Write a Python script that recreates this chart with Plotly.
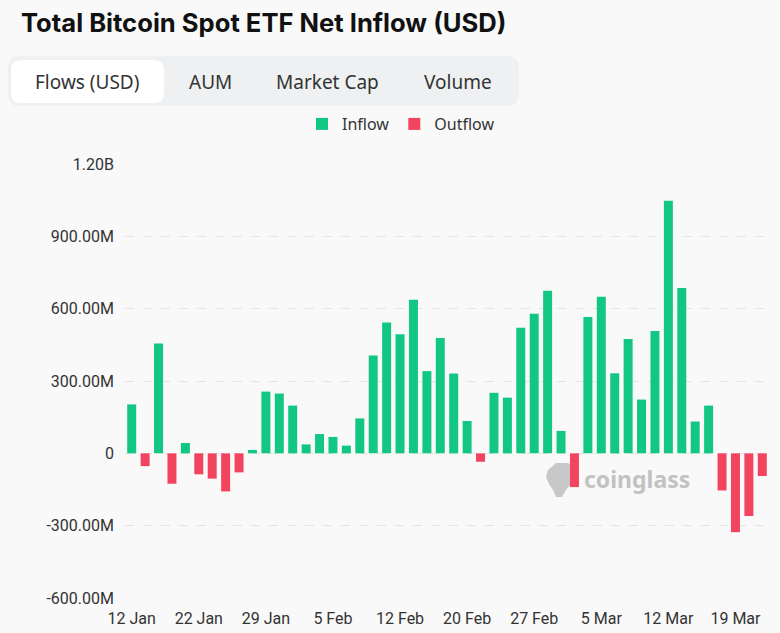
import plotly.graph_objects as go

# ---- data ----
dates = [
    "12 Jan", "16 Jan", "17 Jan", "18 Jan", "19 Jan",
    "22 Jan", "23 Jan", "24 Jan", "25 Jan", "26 Jan",
    "29 Jan", "30 Jan", "31 Jan", "1 Feb", "2 Feb",
    "5 Feb", "6 Feb", "7 Feb", "8 Feb", "9 Feb",
    "12 Feb", "13 Feb", "14 Feb", "15 Feb", "16 Feb",
    "20 Feb", "21 Feb", "22 Feb", "23 Feb", "26 Feb",
    "27 Feb", "28 Feb", "29 Feb", "1 Mar", "4 Mar",
    "5 Mar", "6 Mar", "7 Mar", "8 Mar", "11 Mar",
    "12 Mar", "13 Mar", "14 Mar", "15 Mar", "18 Mar",
    "19 Mar", "20 Mar", "21 Mar",
]
net_flow_musd = [
    203, -53, 456, -126, 43,
    -87, -105, -158, -79, 14,
    256, 248, 198, 37, 80,
    68, 32, 145, 406, 543,
    494, 637, 341, 478, 331,
    134, -35, 251, 231, 521,
    579, 674, 93, -140, 565,
    649, 332, 474, 223, 507,
    1048, 686, 132, 198, -154,
    -327, -260, -94,
]
tick_dates = ["12 Jan", "22 Jan", "29 Jan", "5 Feb", "12 Feb",
              "20 Feb", "27 Feb", "5 Mar", "12 Mar", "19 Mar"]
y_tick_vals_musd = [-600, -300, 0, 300, 600, 900, 1200]
y_tick_text = ["-600.00M", "-300.00M", "0", "300.00M", "600.00M", "900.00M", "1.20B"]
tabs = ["Flows (USD)", "AUM", "Market Cap", "Volume"]

inflow = [v * 1e6 if v >= 0 else None for v in net_flow_musd]
outflow = [v * 1e6 if v < 0 else None for v in net_flow_musd]

GREEN = "#12c784"
RED = "#f2445f"
BG = "#f9f9f9"
TXT = "#333333"

W, H = 780, 633
L, R, T, B = 125, 769, 164, 598


def px(x):
    return (x - L) / (R - L)


def py(y):
    return (B - y) / (B - T)


def rrect(x0, y0, x1, y1, r):
    pts = [
        f"M{px(x0 + r)},{py(y0)}",
        f"L{px(x1 - r)},{py(y0)}",
        f"Q{px(x1)},{py(y0)} {px(x1)},{py(y0 + r)}",
        f"L{px(x1)},{py(y1 - r)}",
        f"Q{px(x1)},{py(y1)} {px(x1 - r)},{py(y1)}",
        f"L{px(x0 + r)},{py(y1)}",
        f"Q{px(x0)},{py(y1)} {px(x0)},{py(y1 - r)}",
        f"L{px(x0)},{py(y0 + r)}",
        f"Q{px(x0)},{py(y0)} {px(x0 + r)},{py(y0)}",
        "Z",
    ]
    return " ".join(pts)


fig = go.Figure()
fig.add_trace(go.Bar(x=dates, y=inflow, name="Inflow", marker_color=GREEN,
                     marker_line_width=0))
fig.add_trace(go.Bar(x=dates, y=outflow, name="Outflow", marker_color=RED,
                     marker_line_width=0))

shapes = []
shapes.append(dict(type="path", xref="paper", yref="paper",
                   path=rrect(8, 56, 519, 106, 12),
                   fillcolor="#eff0f2", line=dict(width=0), layer="below"))
shapes.append(dict(type="path", xref="paper", yref="paper",
                   path=rrect(11, 60, 164, 103, 10),
                   fillcolor="#ffffff", line=dict(width=0), layer="below"))
logo = [
    (548, 470), (556, 463), (568, 463), (575, 468), (576, 477),
    (571, 484), (566, 490), (562, 497), (556, 497), (553, 490),
    (549, 484), (546, 477),
]
lp = "M" + " L".join(f"{px(a)},{py(b)}" for a, b in logo) + " Z"
shapes.append(dict(type="path", xref="paper", yref="paper", path=lp,
                   fillcolor="#c8c8c8", line=dict(width=0), layer="below"))

annotations = []
annotations.append(dict(text="<b>Total Bitcoin Spot ETF Net Inflow (USD)</b>",
                        xref="paper", yref="paper", x=px(19), y=py(23),
                        xanchor="left", yanchor="middle", showarrow=False,
                        font=dict(family="Inter", size=25.6, color="#111111")))
tab_centers = [87, 210, 327, 458]
for t, cx in zip(tabs, tab_centers):
    annotations.append(dict(text=t, xref="paper", yref="paper", x=px(cx), y=py(82),
                            xanchor="center", yanchor="middle", showarrow=False,
                            font=dict(family="Noto Sans", size=19, color=TXT)))
annotations.append(dict(text="<b>coinglass</b>", xref="paper", yref="paper",
                        x=px(582), y=py(479), xanchor="left", yanchor="middle",
                        showarrow=False,
                        font=dict(family="Noto Sans", size=23, color="#c2c2c2")))

fig.update_layout(
    width=W, height=H,
    margin=dict(l=L, r=W - R, t=T, b=H - B, pad=0, autoexpand=False),
    paper_bgcolor=BG, plot_bgcolor=BG,
    barmode="relative", bargap=0.33,
    showlegend=True,
    legend=dict(orientation="h", x=px(302), y=py(124), xanchor="left",
                yanchor="middle", font=dict(family="Noto Sans", size=16, color=TXT),
                bgcolor="rgba(0,0,0,0)", itemclick=False, traceorder="normal"),
    shapes=shapes, annotations=annotations,
    font=dict(family="Noto Sans", color=TXT),
)
fig.update_xaxes(type="category", tickmode="array", tickvals=tick_dates,
                 ticktext=tick_dates, showgrid=False, showline=False,
                 zeroline=False, ticks="", automargin=False,
                 ticklabelstandoff=9,
                 tickfont=dict(family="Roboto", size=16, color=TXT),
                 range=[-0.5, len(dates) - 0.5])
fig.update_yaxes(range=[-600e6, 1200e6], tickmode="array",
                 tickvals=[v * 1e6 for v in y_tick_vals_musd], ticktext=y_tick_text,
                 showgrid=True, gridcolor="#e4e4e4", griddash="dash", gridwidth=1,
                 zeroline=False, showline=False, ticks="", automargin=False,
                 ticklabelstandoff=10,
                 tickfont=dict(family="Roboto", size=16, color=TXT))

fig.write_html(
    "out.html",
    config={"displayModeBar": False},
    post_script="document.body.style.margin='0';"
                "document.body.style.background='#f9f9f9';",
)
